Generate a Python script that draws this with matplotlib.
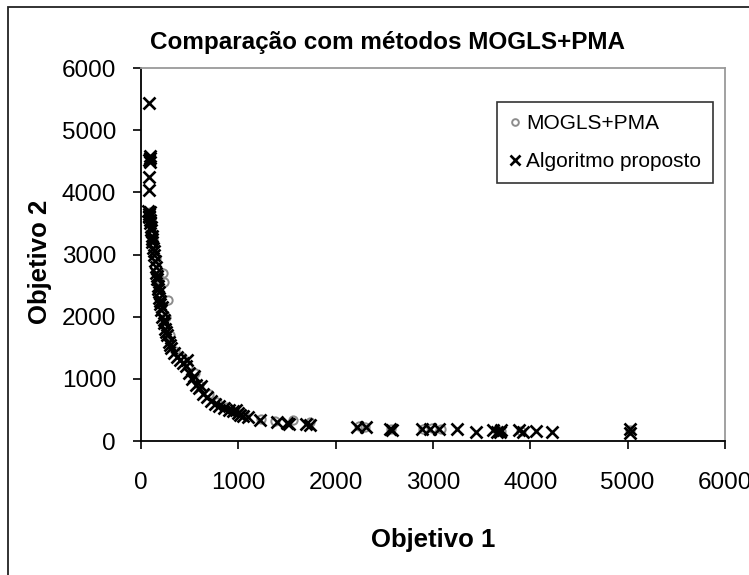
import matplotlib
matplotlib.use("Agg")
import matplotlib.pyplot as plt
from matplotlib.patches import Rectangle

plt.rcParams['font.family'] = ['Liberation Sans', 'DejaVu Sans']

# Algoritmo proposto (black crosses)
prop_x = [82, 90, 85, 95, 88, 80, 80,
          75, 85, 80, 90, 95, 78, 88, 100, 105, 110, 115, 118, 125, 130,
          135, 140, 150, 155, 160, 165, 170, 175, 180, 190, 195, 200, 210,
          215, 220, 235, 240, 250, 260, 270, 290, 300, 310, 340, 370, 400,
          430, 460, 470, 490, 520, 540, 560, 600, 620, 640, 680, 720, 760,
          800, 850, 900, 950, 980, 1000, 1020, 1050, 1100, 1220, 1400, 1500,
          1520, 1700, 1740, 2220, 2310, 2560, 2580, 2890, 2970, 3060, 3250,
          3440, 3620, 3660, 3700, 3690, 3880, 3920, 4060, 4220, 5020, 5020]
prop_y = [5440, 4580, 4520, 4550, 4490, 4250, 4040,
          3700, 3650, 3600, 3560, 3500, 3620, 3680, 3450, 3400, 3300, 3200,
          3250, 3100, 3000, 3050, 2900, 2800, 2700, 2650, 2600, 2500, 2450,
          2400, 2300, 2250, 2200, 2100, 2150, 2000, 1900, 1950, 1800, 1750,
          1700, 1600, 1550, 1500, 1420, 1350, 1300, 1260, 1200, 1300, 1100,
          1000, 1050, 900, 850, 880, 760, 700, 650, 600, 560, 530, 500, 480,
          500, 450, 420, 400, 390, 340, 300, 290, 270, 280, 260, 230, 230,
          200, 180, 190, 200, 190, 190, 150, 170, 150, 170, 140, 170, 150,
          160, 150, 200, 130]

# MOGLS+PMA (grey circles)
mogls_x = [95, 100, 120, 150, 180, 226, 240, 277, 260, 300, 350, 420, 480,
           555, 600, 700, 780, 880, 980, 1060, 1230, 1380, 1560, 1740, 2240,
           2300, 2570, 2900, 2990, 3080, 3660, 3700, 3900, 5020]
mogls_y = [3680, 3550, 3250, 2950, 2600, 2700, 2550, 2270, 2000, 1700,
           1450, 1350, 1200, 1090, 900, 760, 620, 540, 470, 430, 360, 320,
           330, 300, 240, 230, 200, 200, 210, 200, 170, 160, 160, 170]

x_ticks = [0, 1000, 2000, 3000, 4000, 5000, 6000]
y_ticks = [0, 1000, 2000, 3000, 4000, 5000, 6000]

fig = plt.figure(figsize=(7.49, 5.75), dpi=100)
fig.patches.append(Rectangle((8 / 749, -0.1), 1.2, 1 - 7 / 575 + 0.1,
                             transform=fig.transFigure, fill=False,
                             edgecolor='#222222', linewidth=1.3))

ax = fig.add_axes([141 / 749, 1 - 441 / 575, 584 / 749, 373 / 575])
ax.plot(mogls_x, mogls_y, linestyle='none', marker='o', markersize=6,
        markerfacecolor='none', markeredgecolor='#8c8c8c', markeredgewidth=1.4,
        label='MOGLS+PMA')
ax.plot(prop_x, prop_y, linestyle='none', marker='x', markersize=9,
        color='black', markeredgewidth=1.9, label='Algoritmo proposto')

ax.set_xlim(0, 6000)
ax.set_ylim(0, 6000)
ax.set_xticks(x_ticks)
ax.set_yticks(y_ticks)
ax.tick_params(direction='out', length=6, width=1.2, labelsize=17.5, pad=12)
ax.tick_params(axis='x', pad=16)

for s in ['left', 'bottom']:
    ax.spines[s].set_color('black')
    ax.spines[s].set_linewidth(1.3)
for s in ['top', 'right']:
    ax.spines[s].set_color('#9a9a9a')
    ax.spines[s].set_linewidth(1.3)

fig.text(387 / 749, 1 - 43 / 575, 'Comparação com métodos MOGLS+PMA',
         ha='center', va='center', fontsize=17.5, fontweight='bold')
fig.text(433 / 749, 1 - 540 / 575, 'Objetivo 1', ha='center', va='center',
         fontsize=18.5, fontweight='bold')
fig.text(40 / 749, 1 - 262 / 575, 'Objetivo 2', ha='center', va='center',
         fontsize=18.5, fontweight='bold', rotation=90)

leg = ax.legend(loc='upper right', bbox_to_anchor=(0.98, 0.91),
                borderaxespad=0, fancybox=False, frameon=True, fontsize=15,
                handlelength=0.6, handletextpad=0.2, borderpad=0.6,
                labelspacing=0.9, markerscale=0.8)
leg.get_frame().set_edgecolor('black')
leg.get_frame().set_linewidth(1.2)

fig.savefig('out.png', dpi=100)
